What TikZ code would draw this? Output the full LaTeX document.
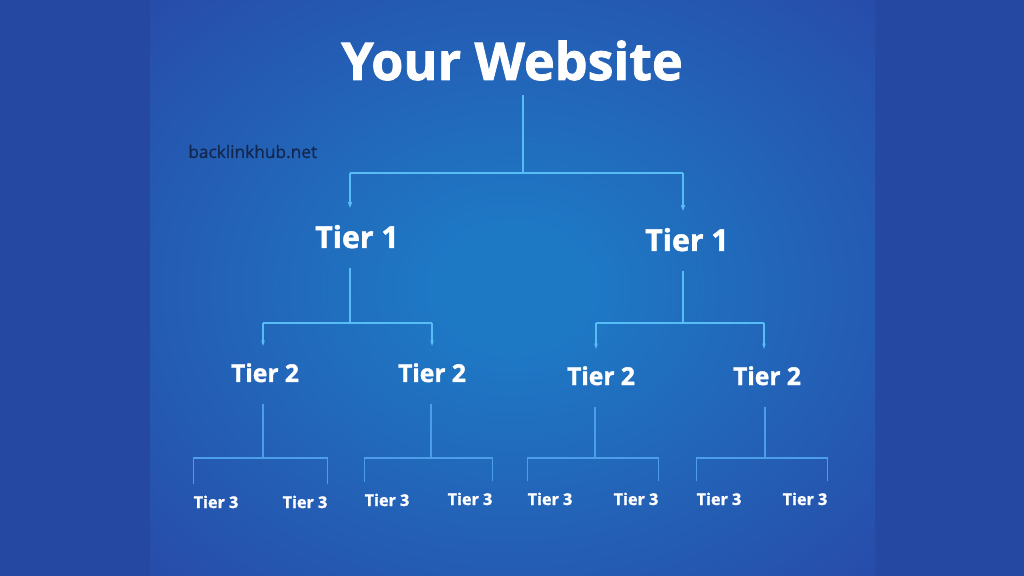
\documentclass[tikz,border=0pt]{standalone}
\usepackage{fontspec}
\setmainfont{Open Sans}
\usetikzlibrary{calc,positioning,arrows.meta}

\definecolor{bandblue}{HTML}{2549A3}
\definecolor{glowin}{HTML}{1E79C5}
\definecolor{glowout}{HTML}{2945A5}
\definecolor{linkblue}{HTML}{58BCF7}
\definecolor{linkfaint}{HTML}{4C9EE8}
\definecolor{markdark}{HTML}{14284F}

\pgfdeclareradialshading{panelglow}{\pgfpoint{0bp}{0bp}}{%
  color(0bp)=(glowin); color(5bp)=(glowin); color(40bp)=(glowout); color(75bp)=(glowout)}

\begin{document}
\begin{tikzpicture}[
  x=0.025cm, y=-0.025cm,
  label/.style={text=white, inner sep=0pt, anchor=base},
  webtext/.style={label, font=\fontsize{37}{40}\selectfont\bfseries\addfontfeature{FakeBold=1.5}},
  tierone/.style={label, font=\fontsize{21.5}{24}\selectfont\bfseries\addfontfeature{FakeBold=1.5}},
  tiertwo/.style={label, font=\fontsize{17.5}{20}\selectfont\bfseries\addfontfeature{FakeBold=1.5}},
  tierthree/.style={label, font=\fontsize{11.5}{13}\selectfont\bfseries\addfontfeature{FakeBold=1.5}},
  link/.style={draw=linkblue, line width=1.4pt},
  arrowlink/.style={link, -{Latex[length=7pt,width=3pt]}},
  midlink/.style={draw=linkblue, line width=1.1pt},
  midarrow/.style={midlink, -{Latex[length=6pt,width=2.6pt]}},
  faintlink/.style={draw=linkfaint, line width=0.9pt},
  ]

  \useasboundingbox (0,0) rectangle (1024,576);
  \fill[bandblue] (0,0) rectangle (1024,576);
  \shade[shading=panelglow] (150,0) rectangle (875,576);

  % labels
  \node[webtext] (web) at (512,80) {Your Website};
  \node[inner sep=0pt, anchor=base west, text=markdark,
    font=\fontsize{12.3}{14}\selectfont\addfontfeature{FakeBold=1}] (mark) at (188,158) {backlinkhub.net};

  \node[tierone] (t1a) at (357,248) {Tier 1};
  \node[tierone] (t1b) at (687,251) {Tier 1};

  \foreach \n/\x/\y in {a/265/382, b/432/382, c/601/385, d/767/385}
    \node[tiertwo] (t2\n) at (\x,\y) {Tier 2};

  \foreach \n/\x/\y in {a/216/508, b/305/508, c/387/506, d/470/505,
                        e/550/505, f/636/505, g/719/505, h/805/505}
    \node[tierthree] (t3\n) at (\x,\y) {Tier 3};

  % website to tier 1
  \coordinate (j0) at (523,173);
  \coordinate (k1a) at (350,173);
  \coordinate (k1b) at (683,173);
  \draw[link, shorten <=10pt] (web.south -| j0) -- (j0);
  \draw[link] (k1a) -- (k1b);
  \foreach \n in {a,b}
    \draw[arrowlink, shorten >=9pt] (k1\n) -- (k1\n |- t1\n.north);

  % tier 1 to tier 2
  \coordinate (j1a) at (350,323);
  \coordinate (j1b) at (683,323);
  \foreach \n/\x in {a/263, b/432, c/596, d/764}
    \coordinate (k2\n) at (\x,323);
  \draw[midlink, shorten <=14pt] (j1a |- t1a.south) -- (j1a);
  \draw[midlink, shorten <=14pt] (j1b |- t1b.south) -- (j1b);
  \draw[midlink] (k2a) -- (k2b);
  \draw[midlink] (k2c) -- (k2d);
  \foreach \n in {a,b,c,d}
    \draw[midarrow, shorten >=10pt] (k2\n) -- (k2\n |- t2\n.north);

  % tier 2 to tier 3
  \foreach \n/\x/\l/\r in {a/263/a/b, b/431/c/d, c/595/e/f, d/765/g/h}
  {
    \coordinate (j2\n) at (\x,458);
    \draw[faintlink, shorten <=15pt] (j2\n |- t2\n.south) -- (j2\n);
    \draw[faintlink, shorten <=8pt, shorten >=8pt]
      (t3\l.north west) -- (t3\l.north west |- j2\n)
      -- (t3\r.north east |- j2\n) -- (t3\r.north east);
  }

\end{tikzpicture}
\end{document}
